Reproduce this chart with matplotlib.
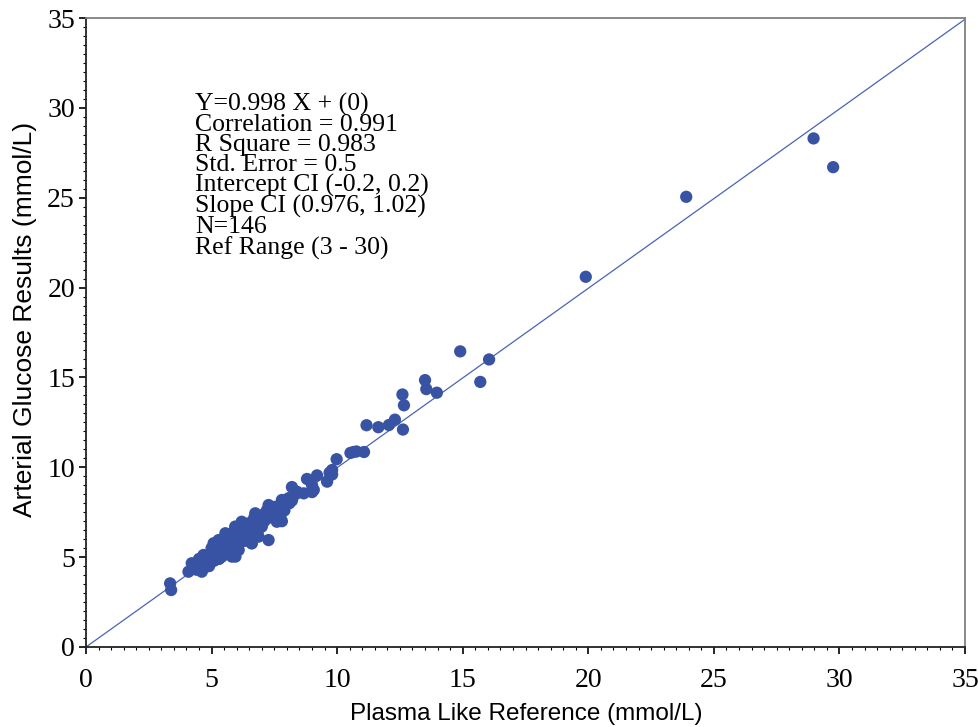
import matplotlib
matplotlib.use("Agg")
import matplotlib.pyplot as plt
from matplotlib.ticker import MultipleLocator

# ---- data ----
x_vals = [
    29.75, 28.97, 23.90, 19.90, 14.90, 16.05, 15.70, 13.50, 13.55, 13.97,
    12.60, 12.66, 12.30, 12.06, 11.64, 11.17, 12.62, 10.53, 10.77, 11.07,
    10.65, 9.98, 9.80, 9.70, 9.60, 9.80,
    9.20, 8.80, 9.07, 9.00, 8.20, 8.40, 8.67, 9.00, 7.80, 8.07,
    8.34, 8.20, 7.95, 7.27, 7.54, 7.74, 7.60, 7.80, 7.40, 7.60,
    7.10, 6.74, 7.00, 7.27, 6.20, 6.47, 6.87, 6.60, 5.94, 5.55,
    5.28, 5.68, 5.41, 5.95,
    3.35, 3.39, 4.08, 4.21, 4.61, 4.68, 4.48, 5.08, 5.55, 5.81, 6.08, 6.60,
    4.30, 4.40, 4.50, 4.60, 4.70, 4.80, 4.90, 4.90, 5.00, 5.00,
    5.10, 5.10, 5.20, 5.20, 5.30, 5.30, 5.40, 5.40, 5.50, 5.50,
    5.60, 5.60, 5.70, 5.70, 5.80, 5.80, 5.90, 5.90, 6.00, 6.00,
    6.10, 6.10, 6.20, 6.20, 6.30, 6.30, 6.40, 6.40, 6.50, 6.50,
    6.60, 6.60, 6.70, 6.70, 6.80, 6.90, 6.90, 7.00, 7.10, 7.20,
    7.30, 7.50, 4.50, 4.70, 5.00, 5.20, 5.40, 5.60, 5.80, 6.00,
    6.20, 6.40, 6.60, 5.70, 5.90, 6.30, 6.80, 4.60, 4.90, 5.10,
    5.30, 7.00, 7.90, 8.10,
]
y_vals = [
    26.70, 28.30, 25.05, 20.60, 16.45, 16.00, 14.75, 14.85, 14.35, 14.15,
    14.05, 13.45, 12.65, 12.35, 12.23, 12.34, 12.10, 10.80, 10.88, 10.85,
    10.85, 10.45, 9.85, 9.70, 9.20, 9.60,
    9.55, 9.35, 8.74, 9.00, 8.90, 8.64, 8.55, 8.62, 8.18, 8.28,
    8.50, 8.15, 8.10, 7.90, 7.80, 7.25, 6.97, 7.00, 7.50, 7.60,
    7.40, 7.44, 7.16, 5.95, 6.97, 6.88, 6.14, 5.77, 6.70, 6.33,
    5.95, 5.40, 5.03, 5.03,
    3.54, 3.17, 4.19, 4.66, 4.19, 5.12, 4.56, 5.77, 5.58, 5.03, 5.40, 5.77,
    4.50, 4.30, 4.70, 4.50, 4.40, 4.90, 4.70, 5.00, 5.20, 4.90,
    5.00, 5.40, 5.10, 5.30, 5.50, 5.20, 5.40, 5.60, 5.30, 5.90,
    5.50, 5.80, 5.60, 6.00, 5.70, 5.90, 6.10, 5.60, 6.00, 6.20,
    5.90, 6.40, 6.10, 6.50, 6.20, 6.60, 6.30, 6.80, 6.40, 6.60,
    6.50, 6.90, 6.60, 7.20, 6.80, 7.00, 6.60, 7.30, 7.00, 7.60,
    7.20, 7.30, 4.90, 4.80, 5.50, 5.70, 5.80, 6.10, 6.30, 6.50,
    6.80, 6.10, 6.20, 5.30, 5.40, 5.90, 6.30, 4.30, 4.50, 4.80,
    4.90, 6.70, 7.60, 8.00,
]
fit_slope = 0.998
fit_intercept = 0.0
fit_x = [0, 35]

stats_lines = [
    "Y=0.998 X + (0)",
    "Correlation = 0.991",
    "R Square = 0.983",
    "Std. Error = 0.5",
    "Intercept CI (-0.2, 0.2)",
    "Slope CI (0.976, 1.02)",
    "N=146",
    "Ref Range (3 - 30)",
]
x_label = "Plasma Like Reference (mmol/L)"
y_label = "Arterial Glucose Results (mmol/L)"

# ---- figure ----
W, H = 979, 727
fig = plt.figure(figsize=(W / 100, H / 100), dpi=100)
ax = fig.add_axes([86 / W, 1 - 647 / H, (965 - 86) / W, (647 - 18) / H])

dot_color = "#3953a4"
line_color = "#4a64b4"

fit_y = [fit_slope * v + fit_intercept for v in fit_x]
ax.plot(fit_x, fit_y, color=line_color, lw=0.9, zorder=2)
ax.scatter(x_vals, y_vals, s=78, color=dot_color, edgecolors="none", zorder=3)

ax.set_xlim(0, 35)
ax.set_ylim(0, 35)
ax.xaxis.set_major_locator(MultipleLocator(5))
ax.yaxis.set_major_locator(MultipleLocator(5))
ax.xaxis.set_minor_locator(MultipleLocator(0.5))
ax.yaxis.set_minor_locator(MultipleLocator(0.5))

ax.tick_params(which="major", direction="out", length=5, width=1.2, color="black",
               labelsize=20, pad=3)
ax.tick_params(axis="x", which="major", pad=10)
ax.tick_params(which="minor", direction="out", length=2.5, width=0.8, color="black")
ax.tick_params(top=False, right=False, which="both")
for lab in ax.get_xticklabels() + ax.get_yticklabels():
    lab.set_fontfamily("Liberation Serif")

for side in ("left", "bottom"):
    ax.spines[side].set_color("#222222")
    ax.spines[side].set_linewidth(1.3)
for side in ("top", "right"):
    ax.spines[side].set_color("#808080")
    ax.spines[side].set_linewidth(1.3)

ax.set_xlabel(x_label, fontsize=17.5, fontfamily="Liberation Sans")
ax.set_ylabel(y_label, fontsize=19, fontfamily="Liberation Sans")
ax.xaxis.set_label_coords(0.501, -(727 - 647 - 24) / 629 - 0.0)
ax.yaxis.set_label_coords(-0.056, 0.521)

ax.text(195 / W, 1 - 93 / H, "\n".join(stats_lines), transform=fig.transFigure,
        fontsize=18.5, fontfamily="Liberation Serif", va="top", ha="left",
        linespacing=0.885)

fig.savefig("out.png", dpi=100)
